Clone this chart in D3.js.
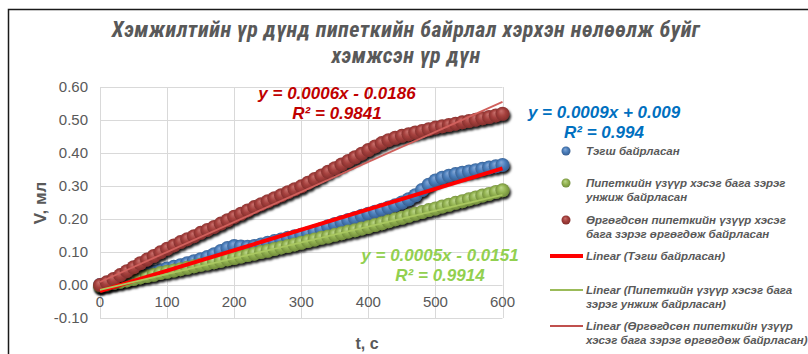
<!DOCTYPE html>
<html>
<head>
<meta charset="utf-8">
<script src="https://cdn.jsdelivr.net/npm/d3@7"></script>
<style>
  body { margin: 0; background: #fff; }
  text { font-family: "Liberation Sans", Arial, sans-serif; }
</style>
</head>
<body>
<svg id="chart" width="808" height="354"></svg>
<script>
// time, s
let times = [0,10,20,30,40,50,60,70,80,90,100,110,120,130,140,150,160,170,180,190,200,
  210,220,230,240,250,260,270,280,290,300,310,320,330,340,350,360,370,380,390,400,
  410,420,430,440,450,460,470,480,490,500,510,520,530,540,550,560,570,580,590,600];

// V, ml
let flatVals = [0.000,0.004,0.009,0.014,0.019,0.025,0.030,0.035,0.040,0.045,0.050,
  0.055,0.060,0.066,0.072,0.078,0.085,0.093,0.103,0.112,0.118,
  0.117,0.116,0.118,0.123,0.128,0.133,0.138,0.143,0.148,0.152,
  0.157,0.163,0.170,0.178,0.185,0.191,0.197,0.203,0.210,0.216,
  0.222,0.228,0.235,0.242,0.250,0.260,0.272,0.288,0.304,0.317,
  0.325,0.331,0.336,0.340,0.344,0.348,0.352,0.356,0.360,0.364];
let downVals = [-0.003,0.001,0.006,0.010,0.014,0.018,0.023,0.027,0.031,0.036,0.040,
  0.044,0.048,0.052,0.057,0.061,0.065,0.069,0.073,0.078,0.082,
  0.086,0.091,0.095,0.100,0.104,0.109,0.114,0.118,0.123,0.128,
  0.133,0.138,0.143,0.147,0.152,0.157,0.162,0.166,0.171,0.176,
  0.182,0.187,0.193,0.199,0.204,0.210,0.216,0.221,0.227,0.232,
  0.238,0.243,0.249,0.254,0.260,0.265,0.271,0.276,0.282,0.287];
let upVals = [0.000,0.008,0.018,0.030,0.042,0.054,0.066,0.077,0.088,0.099,0.110,
  0.120,0.130,0.139,0.148,0.158,0.167,0.176,0.186,0.196,0.207,
  0.216,0.226,0.236,0.245,0.254,0.263,0.272,0.281,0.290,0.299,
  0.310,0.321,0.332,0.343,0.354,0.365,0.376,0.387,0.398,0.409,
  0.420,0.430,0.439,0.446,0.452,0.457,0.462,0.467,0.472,0.477,
  0.481,0.485,0.489,0.493,0.497,0.501,0.505,0.509,0.514,0.519];

// trend lines as drawn: [intercept, slope]
let trendFlat = [-0.0186, 0.00062];
let trendDown = [-0.0151, 0.00048];
let trendUp = [0.009, 0.00091];

let xTicks = [0,100,200,300,400,500,600];
let yTicks = [-0.1,0,0.1,0.2,0.3,0.4,0.5,0.6];
let yLabels = ["-0.10","0.00","0.10","0.20","0.30","0.40","0.50","0.60"];

let titleLines = ["Хэмжилтийн үр дүнд пипеткийн байрлал хэрхэн нөлөөлж буйг", "хэмжсэн үр дүн"];

let svg = d3.select("#chart");
let grey = "#595959";

// frame
svg.append("rect").attr("x", 8.5).attr("y", 9.5).attr("width", 900).attr("height", 400)
  .attr("fill", "none").attr("stroke", "#1a1a1a").attr("stroke-width", 1.5);

let x = d3.scaleLinear().domain([0, 600]).range([100, 502.5]);
let y = d3.scaleLinear().domain([-0.1, 0.6]).range([318, 87]);

let defs = svg.append("defs");
function sphere(id, light, base, dark){
  let g = defs.append("radialGradient").attr("id", id)
    .attr("cx", "50%").attr("cy", "50%").attr("r", "55%")
    .attr("fx", "40%").attr("fy", "30%");
  g.append("stop").attr("offset", "0%").attr("stop-color", light);
  g.append("stop").attr("offset", "50%").attr("stop-color", base);
  g.append("stop").attr("offset", "100%").attr("stop-color", dark);
}
sphere("gBlue", "#86a9d8", "#4a7ebb", "#34598a");
sphere("gGreen", "#bcd68a", "#94b452", "#6c8638");
sphere("gRed", "#c8706c", "#a5403d", "#7e2c2a");

let f = defs.append("filter").attr("id", "shadow")
  .attr("x", "-10%").attr("y", "-10%").attr("width", "130%").attr("height", "140%");
f.append("feDropShadow").attr("dx", 1.5).attr("dy", 2.5).attr("stdDeviation", 1.3)
  .attr("flood-color", "#000").attr("flood-opacity", 0.9);

// grid
let grid = svg.append("g").attr("stroke", "#d9d9d9").attr("stroke-width", 1);
grid.selectAll(".h").data(yTicks).enter().append("line")
  .attr("x1", x(0)).attr("x2", x(600))
  .attr("y1", d => Math.round(y(d)) + 0.5).attr("y2", d => Math.round(y(d)) + 0.5);
grid.selectAll(".v").data(xTicks).enter().append("line")
  .attr("y1", y(0.6)).attr("y2", y(-0.1))
  .attr("x1", d => Math.round(x(d)) + 0.5).attr("x2", d => Math.round(x(d)) + 0.5);

// tick labels
svg.append("g").selectAll("text").data(yTicks).enter().append("text")
  .attr("x", 88).attr("y", d => y(d)).attr("dy", "0.35em")
  .attr("text-anchor", "end").attr("font-size", 15).attr("fill", grey)
  .text((d, i) => yLabels[i]);
svg.append("g").selectAll("text").data(xTicks).enter().append("text")
  .attr("x", d => x(d)).attr("y", y(0) + 22)
  .attr("text-anchor", "middle").attr("font-size", 15).attr("fill", grey)
  .text(d => d);

// axis titles
svg.append("text").attr("transform", "translate(46,203) rotate(-90)")
  .attr("text-anchor", "middle").attr("font-size", 17).attr("font-weight", "bold")
  .attr("fill", grey).text("V, мл");
svg.append("text").attr("x", 367).attr("y", 349)
  .attr("text-anchor", "middle").attr("font-size", 16).attr("font-weight", "bold")
  .attr("fill", grey).text("t, с");

// title
svg.append("g").selectAll("text").data(titleLines).enter().append("text")
  .attr("x", 406).attr("y", (d, i) => 37 + i * 26)
  .attr("text-anchor", "middle").attr("font-size", 22).attr("font-style", "italic")
  .attr("font-weight", "bold").attr("letter-spacing", 0.5)
  .style("font-family", "'Liberation Sans Narrow', 'Arial Narrow', 'Roboto Condensed', sans-serif")
  .attr("fill", grey).text(d => d);

// series
let series = [
  {vals: flatVals, grad: "gBlue"},
  {vals: downVals, grad: "gGreen"},
  {vals: upVals, grad: "gRed"}
];
series.forEach(s => {
  svg.append("g").attr("filter", "url(#shadow)")
    .selectAll("circle").data(times).enter().append("circle")
    .attr("cx", d => x(d)).attr("cy", (d, i) => y(s.vals[i]))
    .attr("r", 7).attr("fill", "url(#" + s.grad + ")");
});

// trend lines
let trends = [
  {c: trendFlat, color: "#ff0000", w: 4},
  {c: trendDown, color: "#a9c760", w: 1.8},
  {c: trendUp, color: "#d0605c", w: 1.8}
];
let line = d3.line().x(d => x(d[0])).y(d => y(d[1]));
trends.forEach(t => {
  svg.append("path")
    .attr("d", line([[0, t.c[0]], [600, t.c[0] + t.c[1] * 600]]))
    .attr("fill", "none").attr("stroke", t.color).attr("stroke-width", t.w);
});

// equation labels
let eqs = [
  {lines: ["y = 0.0006x - 0.0186", "R² = 0.9841"], color: "#c00000", x: 337, y: 99},
  {lines: ["y = 0.0009x + 0.009", "R² = 0.994"], color: "#0070c0", x: 604, y: 118},
  {lines: ["y = 0.0005x - 0.0151", "R² = 0.9914"], color: "#92d050", x: 440, y: 261}
];
eqs.forEach(e => {
  svg.append("g").selectAll("text").data(e.lines).enter().append("text")
    .attr("x", e.x).attr("y", (d, i) => e.y + i * 20)
    .attr("text-anchor", "middle").attr("font-size", 17)
    .attr("font-weight", "bold").attr("font-style", "italic")
    .attr("fill", e.color).text(d => d);
});

// legend
let legend = [
  {type: "dot", grad: "gBlue", y: 151, lines: ["Тэгш байрласан"]},
  {type: "dot", grad: "gGreen", y: 183, lines: ["Пипеткийн үзүүр хэсэг бага зэрэг", "унжиж байрласан"]},
  {type: "dot", grad: "gRed", y: 220, lines: ["Өргөгдсөн пипеткийн үзүүр хэсэг", "бага зэрэг өргөгдөж байрласан"]},
  {type: "line", color: "#ff0000", w: 4, y: 256, lines: ["Linear (Тэгш байрласан)"]},
  {type: "line", color: "#9bbb59", w: 2, y: 290, lines: ["Linear (Пипеткийн үзүүр хэсэг бага", "зэрэг унжиж байрласан)"]},
  {type: "line", color: "#c0504d", w: 2, y: 326, lines: ["Linear (Өргөгдсөн пипеткийн үзүүр", "хэсэг бага зэрэг өргөгдөж байрласан)"]}
];
let lg = svg.append("g");
legend.forEach(l => {
  if(l.type === "dot"){
    lg.append("circle").attr("cx", 566).attr("cy", l.y).attr("r", 4.5)
      .attr("fill", "url(#" + l.grad + ")");
  } else {
    lg.append("line").attr("x1", 550).attr("x2", 583).attr("y1", l.y).attr("y2", l.y)
      .attr("stroke", l.color).attr("stroke-width", l.w);
  }
  lg.append("g").selectAll("text").data(l.lines).enter().append("text")
    .attr("x", 586).attr("y", (d, i) => l.y + i * 14).attr("dy", "0.35em")
    .attr("font-size", 11.5).attr("font-weight", "bold").attr("font-style", "italic")
    .attr("fill", grey).text(d => d);
});
</script>
</body>
</html>
